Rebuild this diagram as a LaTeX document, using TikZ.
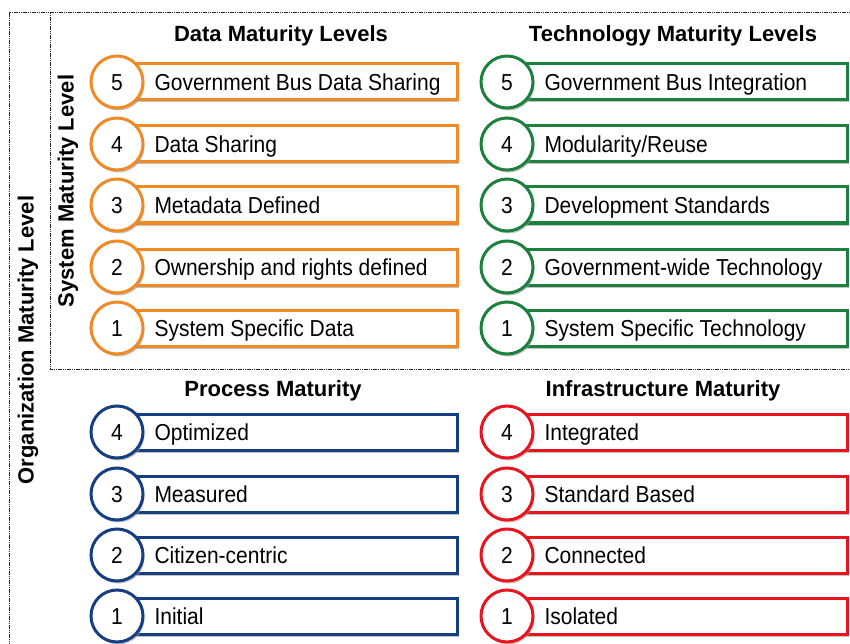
\documentclass[tikz,border=0pt]{standalone}
\usepackage{fontspec}
\usepackage{graphicx}
\setmainfont{Liberation Sans}
\usetikzlibrary{shadows}
\definecolor{cOrange}{RGB}{240,138,36}
\definecolor{cGreen}{RGB}{28,128,62}
\definecolor{cBlue}{RGB}{22,62,130}
\definecolor{cRed}{RGB}{232,20,30}
\tikzset{
  frame/.style={draw=black!85, line width=1pt, dash pattern=on 1.2pt off 0.6pt},
  lvlbox/.style={draw=#1, line width=3pt, fill=white, minimum height=36pt,
    inner xsep=20pt, inner ysep=0pt, text height=16.5pt, text depth=0pt,
    font=\fontsize{21}{25}\selectfont,
    drop shadow={shadow xshift=1.5pt, shadow yshift=-2.5pt, fill=black!40, opacity=0.6}},
  numcirc/.style={circle, draw=#1, line width=3pt, fill=white, minimum size=52pt, inner sep=0pt,
    text height=16.5pt, text depth=0pt,
    font=\fontsize{21}{25}\selectfont,
    drop shadow={shadow xshift=1.5pt, shadow yshift=-2.5pt, fill=black!40, opacity=0.6}},
  ttl/.style={font=\fontsize{22}{26}\selectfont\bfseries},
}
\newcommand{\lvlitem}[6]{%
  \node[lvlbox=#2] (#1b) at (#3+179,#4) {\makebox[283pt][l]{\scalebox{1}[1.1]{#6}}};
  \node[numcirc=#2] (#1c) at (#3,#4) {\scalebox{1}[1.1]{#5}};
}
\begin{document}
\begin{tikzpicture}[x=1pt,y=-1pt]
\useasboundingbox (0,0) rectangle (850,644);
% frames
\draw[frame] (9,660) -- (9,13) -- (860,13);
\draw[frame] (50,13) -- (50,369) -- (860,369);
% rotated labels
\node[ttl, rotate=90] (org) at (28,340) {Organization Maturity Level};
\node[ttl, rotate=90] (sys) at (68,191) {System Maturity Level};
% titles
\node[ttl] (tData) at (281,36) {Data Maturity Levels};
\node[ttl] (tTech) at (673,36) {Technology Maturity Levels};
\node[ttl] (tProc) at (273,391) {Process Maturity};
\node[ttl] (tInfr) at (663,391) {Infrastructure Maturity};
% data
\lvlitem{d5}{cOrange}{117}{82}{5}{Government Bus Data Sharing}
\lvlitem{d4}{cOrange}{117}{144}{4}{Data Sharing}
\lvlitem{d3}{cOrange}{117}{205}{3}{Metadata Defined}
\lvlitem{d2}{cOrange}{117}{267}{2}{Ownership and rights defined}
\lvlitem{d1}{cOrange}{117}{328}{1}{System Specific Data}
% technology
\lvlitem{t5}{cGreen}{507}{82}{5}{Government Bus Integration}
\lvlitem{t4}{cGreen}{507}{144}{4}{Modularity/Reuse}
\lvlitem{t3}{cGreen}{507}{205}{3}{Development Standards}
\lvlitem{t2}{cGreen}{507}{267}{2}{Government-wide Technology}
\lvlitem{t1}{cGreen}{507}{328}{1}{System Specific Technology}
% process
\lvlitem{p4}{cBlue}{117}{432}{4}{Optimized}
\lvlitem{p3}{cBlue}{117}{494}{3}{Measured}
\lvlitem{p2}{cBlue}{117}{555}{2}{Citizen-centric}
\lvlitem{p1}{cBlue}{117}{616}{1}{Initial}
% infrastructure
\lvlitem{i4}{cRed}{507}{432}{4}{Integrated}
\lvlitem{i3}{cRed}{507}{494}{3}{Standard Based}
\lvlitem{i2}{cRed}{507}{555}{2}{Connected}
\lvlitem{i1}{cRed}{507}{616}{1}{Isolated}
\end{tikzpicture}
\end{document}
